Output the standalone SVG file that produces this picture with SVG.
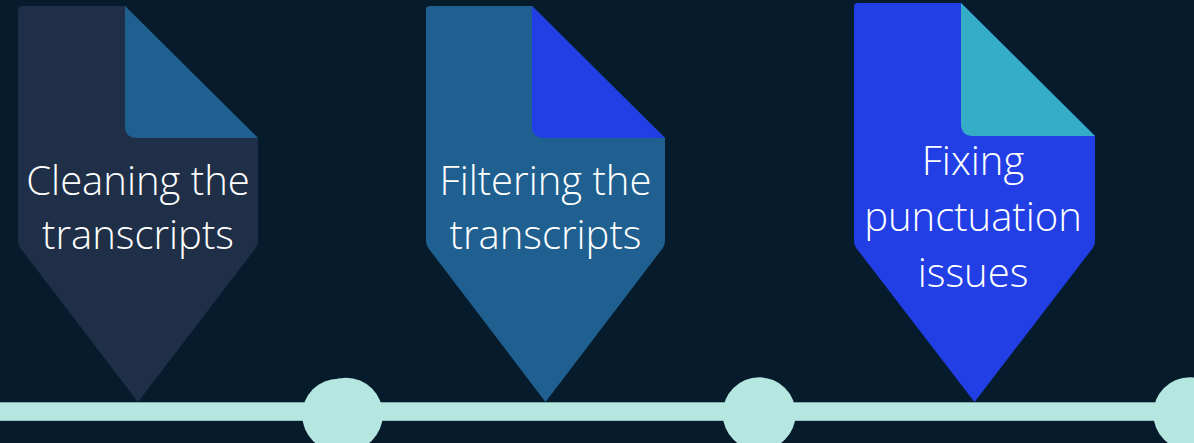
<svg xmlns="http://www.w3.org/2000/svg" width="1194" height="443" viewBox="0 0 1194 443">
  <style>
    .lbl { font-family: "Open Sans", "Liberation Sans", sans-serif; font-weight: 300; font-size: 40px; fill: #FFFFFF; text-anchor: middle; }
    .bar { fill: #B5E6E0; }
  </style>
  <rect x="0" y="0" width="1194" height="443" fill="#061C2C"/>
  <g id="connectors">
    <rect class="bar" x="0" y="402.3" width="1194" height="18.5"/>
    <circle class="bar" cx="338.5" cy="415" r="36.3"/>
    <circle class="bar" cx="346" cy="414.5" r="36.8"/>
    <circle class="bar" cx="759.2" cy="413.8" r="36.5"/>
    <circle class="bar" cx="1189.8" cy="413.8" r="36.5"/>
  </g>
  <g id="node1">
    <path d="M18,10 Q18,6 22,6 L125,6 L258,138 L258,241 Q258,245 255.6,248.2 L138,402 L20.4,248.2 Q18,245 18,241 Z" fill="#1F2F47"/>
    <path d="M125,6 L258,138 L137,138 Q125,138 125,126 Z" fill="#1F6090"/>
    <text class="lbl" x="138" y="195">Cleaning the</text>
    <text class="lbl" x="138" y="249">transcripts</text>
  </g>
  <g id="node2">
    <path d="M426,10 Q426,6 430,6 L532,6 L665,138 L665,241 Q665,245 662.6,248.2 L545.5,402 L428.4,248.2 Q426,245 426,241 Z" fill="#1F6090"/>
    <path d="M532,6 L665,138 L544,138 Q532,138 532,126 Z" fill="#213FE5"/>
    <text class="lbl" x="545.5" y="195">Filtering the</text>
    <text class="lbl" x="545.5" y="249">transcripts</text>
  </g>
  <g id="node3">
    <path d="M854,7 Q854,3 858,3 L961,3 L1095,136 L1095,241 Q1095,245 1092.6,248.2 L974.5,402 L856.4,248.2 Q854,245 854,241 Z" fill="#213FE5"/>
    <path d="M961,3 L1095,136 L973,136 Q961,136 961,124 Z" fill="#35ADC6"/>
    <text class="lbl" x="973" y="175">Fixing</text>
    <text class="lbl" x="973" y="231">punctuation</text>
    <text class="lbl" x="973" y="287">issues</text>
  </g>
</svg>
